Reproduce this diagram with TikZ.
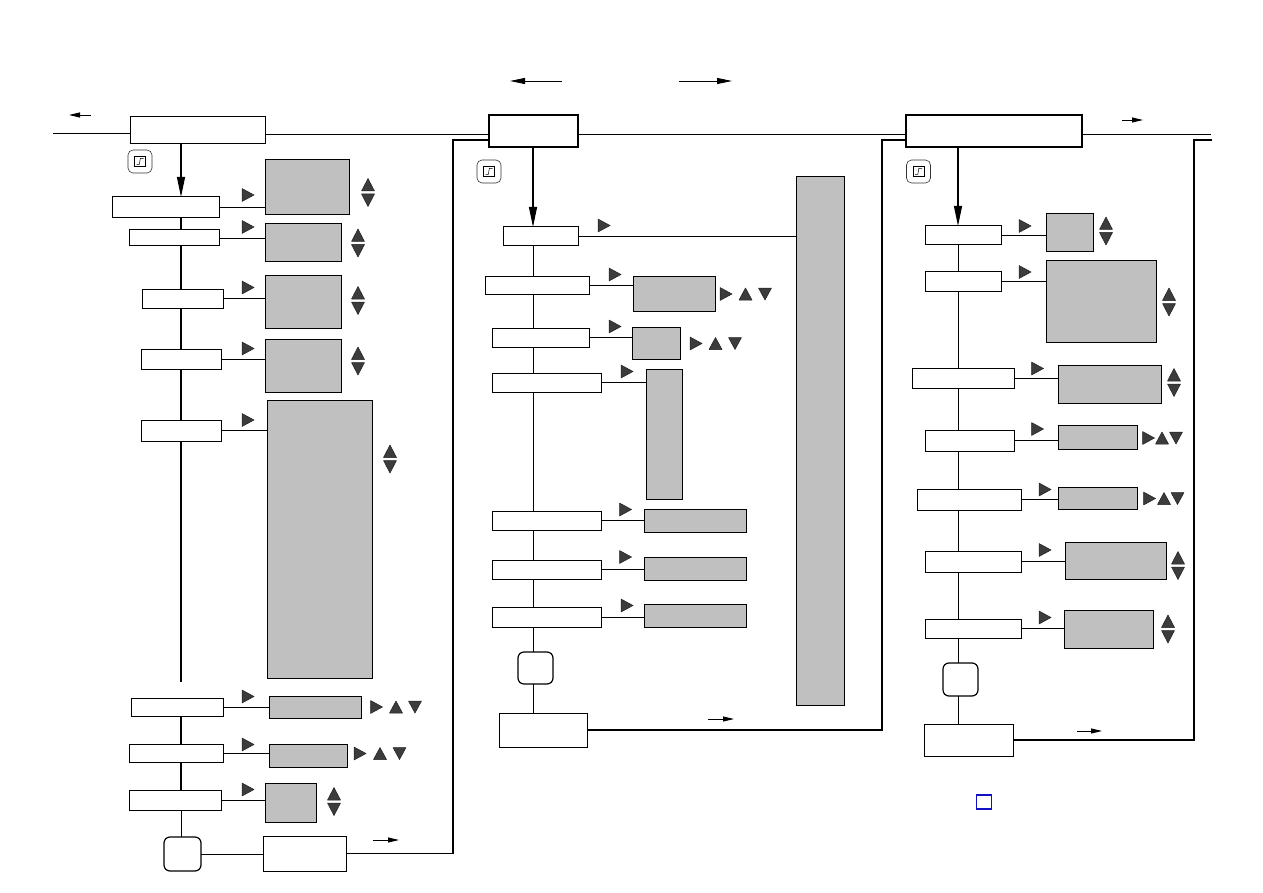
\documentclass[tikz,border=0pt]{standalone}
\usetikzlibrary{arrows.meta}
\definecolor{panel}{HTML}{C0C0C0}
\definecolor{trifill}{HTML}{3C3C3C}
\definecolor{triedge}{HTML}{202020}
\definecolor{markblue}{HTML}{1010C8}
\newcommand\mkbox[6]{\node[#1, minimum width={(#5-#3)*1pt}, minimum height={(#6-#4)*1pt}] (#2) at ({(#3+#5)/2},{(#4+#6)/2}) {};}
\tikzset{
  base/.style={draw=black, inner sep=0pt, outer sep=0pt, line width=1pt},
  wbox/.style={base, fill=white},
  tbox/.style={base, fill=white, line width=2pt},
  gbox/.style={base, fill=panel},
  rbox/.style={base, fill=white, rounded corners=6pt, line width=1.2pt},
  conn/.style={line width=0.9pt},
  spine/.style={line width=2pt},
  thinspine/.style={line width=1pt},
  loopline/.style={line width=1.3pt},
  loopthick/.style={line width=2pt},
  bigarrow/.style={line width=1.2pt, -{Triangle[length=20pt,width=8pt]}},
  smallarrow/.style={line width=0.9pt, -{Triangle[length=11pt,width=5pt]}},
  midarrow/.style={line width=0.9pt, -{Triangle[length=15pt,width=6pt]}},
  tri/.style={fill=trifill, draw=triedge, line width=0.5pt, line join=round},
  play/.pic={\path[tri] (-6,-6.5) -- (6,0) -- (-6,6.5) -- cycle;},
  upt/.pic={\path[tri] (-6.5,6) -- (0,-6) -- (6.5,6) -- cycle;},
  dnt/.pic={\path[tri] (-6.5,-6) -- (6.5,-6) -- (0,6) -- cycle;},
  updown/.pic={\path[tri] (-6.5,-1.5) -- (0,-14) -- (6.5,-1.5) -- cycle;
               \path[tri] (-6.5,1.5) -- (6.5,1.5) -- (0,14) -- cycle;},
  stepicon/.pic={\draw[rounded corners=5pt, line width=0.6pt, draw=black!80] (-12,-11.5) rectangle (12,11.5);
                 \draw[line width=0.7pt] (-5.5,-5) rectangle (5.5,5);
                 \draw[line width=0.5pt] (-3.5,3) -- (-0.7,3) -- (0.3,-3) -- (3.5,-3);},
}
\begin{document}
\begin{tikzpicture}[x=1pt, y=-1pt]
\useasboundingbox[fill=white] (0,0) rectangle (1263,893);

% ---------------- column 1 ----------------
\mkbox{wbox}{A1}{130}{117}{265}{144}
\mkbox{wbox}{B1}{112}{197}{219}{218}
\mkbox{wbox}{C1}{129}{230}{219}{246}
\mkbox{wbox}{D1}{142}{289}{223}{308}
\mkbox{wbox}{E1}{141}{349}{221}{369}
\mkbox{wbox}{F1}{141}{420}{221}{441}
\mkbox{wbox}{H1}{131}{698}{223}{716}
\mkbox{wbox}{I1}{129}{744}{223}{762}
\mkbox{wbox}{J1}{129}{790}{221}{810}
\mkbox{rbox}{K1}{164}{837}{201}{871}
\mkbox{wbox}{L1}{263}{836}{346}{871}
\mkbox{gbox}{GA1}{265}{160}{349}{215}
\mkbox{gbox}{GB1}{265}{224}{341}{262}
\mkbox{gbox}{GC1}{265}{276}{341}{328}
\mkbox{gbox}{GD1}{265}{339}{341}{392}
\mkbox{gbox}{GE1}{267}{400}{372}{678}
\mkbox{gbox}{GH1}{269}{696}{361}{718}
\mkbox{gbox}{GI1}{269}{744}{347}{767}
\mkbox{gbox}{GJ1}{265}{783}{316}{822}

\coordinate (s1) at (181,0);
\coordinate (e1) at (181,682);
\coordinate (lin) at (53,133);
\coordinate (h1) at (0,134);
\coordinate (r1) at (453,140);

\draw[conn] (lin) -- (lin -| A1.west);
\draw[conn] (A1.east |- h1) -- (h1 -| 489,0);
\draw[bigarrow] (A1.south -| s1) -- (B1.north -| s1);
\draw[spine] (B1.south -| s1) -- (C1.north -| s1);
\draw[spine] (C1.south -| s1) -- (D1.north -| s1);
\draw[spine] (D1.south -| s1) -- (E1.north -| s1);
\draw[spine] (E1.south -| s1) -- (F1.north -| s1);
\draw[spine] (F1.south -| s1) -- (e1);
\draw[spine] (H1.south -| s1) -- (I1.north -| s1);
\draw[spine] (I1.south -| s1) -- (J1.north -| s1);
\draw[thinspine] (J1.south -| s1) -- (K1.north -| s1);
\draw[conn] (K1.east) -- (K1.east -| L1.west);

\draw[conn] (B1.east) -- (B1.east -| GA1.west);
\draw[conn] (C1.east) -- (C1.east -| GB1.west);
\draw[conn] (D1.east) -- (D1.east -| GC1.west);
\draw[conn] (E1.east) -- (E1.east -| GD1.west);
\draw[conn] (F1.east) -- (F1.east -| GE1.west);
\draw[conn] (H1.east) -- (H1.east -| GH1.west);
\draw[conn] (I1.east) -- (I1.east -| GI1.west);
\draw[conn] (J1.east) -- (J1.east -| GJ1.west);

\pic at (140,161.5) {stepicon};
\foreach \y in {195,227,287.5,348.5,420,696.5,744.5,789.5} {\pic at (248,\y) {play};}
\pic at (368,192.5) {updown};
\pic at (358,243) {updown};
\pic at (358,300.5) {updown};
\pic at (358,361) {updown};
\pic at (390,459) {updown};
\pic at (334,801.5) {updown};
\pic at (376.5,707) {play}; \pic at (396,707) {upt}; \pic at (415,707) {dnt};
\pic at (360,753.5) {play}; \pic at (380,753.5) {upt}; \pic at (399.5,753.5) {dnt};

\coordinate (la1) at (91,115); \coordinate (la2) at (69,115);
\draw[smallarrow] (la1) -- (la2);
\coordinate (lb1) at (373,840); \coordinate (lb2) at (399,840);
\draw[smallarrow] (lb1) -- (lb2);

% ---------------- column 2 ----------------
\mkbox{tbox}{A2}{489}{115}{578}{147}
\mkbox{wbox}{B2}{503}{227}{578}{246}
\mkbox{wbox}{C2}{485}{277}{589}{294}
\mkbox{wbox}{D2}{492}{328}{589}{347}
\mkbox{wbox}{E2}{492}{373}{601}{392}
\mkbox{wbox}{F2}{492}{511}{601}{530}
\mkbox{wbox}{G2}{492}{560}{601}{579}
\mkbox{wbox}{H2}{492}{607}{601}{627}
\mkbox{rbox}{K2}{518}{652}{553}{684}
\mkbox{wbox}{L2}{499}{713}{587}{747}
\mkbox{gbox}{GT2}{796}{177}{844}{705}
\mkbox{gbox}{GC2}{633}{277}{715}{311}
\mkbox{gbox}{GD2}{632}{327}{680}{359}
\mkbox{gbox}{GE2}{646}{369}{682}{499}
\mkbox{gbox}{GF2}{644}{509}{746}{532}
\mkbox{gbox}{GG2}{644}{557}{746}{580}
\mkbox{gbox}{GH2}{644}{604}{746}{627}

\coordinate (s2) at (533,0);
\coordinate (r2) at (882,140);

\draw[loopline] (L1.east) -| (r1) -- (r1 -| A2.west);
\draw[conn] (A2.east |- h1) -- (h1 -| 906,0);
\draw[bigarrow] (A2.south -| s2) -- (B2.north -| s2);
\draw[conn] (B2.south -| s2) -- (C2.north -| s2);
\draw[conn] (C2.south -| s2) -- (D2.north -| s2);
\draw[conn] (D2.south -| s2) -- (E2.north -| s2);
\draw[conn] (E2.south -| s2) -- (F2.north -| s2);
\draw[conn] (F2.south -| s2) -- (G2.north -| s2);
\draw[conn] (G2.south -| s2) -- (H2.north -| s2);
\draw[conn] (H2.south -| s2) -- (K2.north -| s2);
\draw[conn] (K2.south -| s2) -- (L2.north -| s2);

\draw[conn] (B2.east) -- (B2.east -| GT2.west);
\draw[conn] (C2.east) -- (C2.east -| GC2.west);
\draw[conn] (D2.east) -- (D2.east -| GD2.west);
\draw[conn] (E2.east) -- (E2.east -| GE2.west);
\draw[conn] (F2.east) -- (F2.east -| GF2.west);
\draw[conn] (G2.east) -- (G2.east -| GG2.west);
\draw[conn] (H2.east) -- (H2.east -| GH2.west);

\pic at (489,171.5) {stepicon};
\pic at (604,225.5) {play};
\pic at (615,274.5) {play};
\pic at (615,326.5) {play};
\pic at (627,371.5) {play};
\pic at (625.5,509.5) {play};
\pic at (625.5,557) {play};
\pic at (627,605.5) {play};
\pic at (726,294) {play}; \pic at (745.5,294) {upt}; \pic at (765,294) {dnt};
\pic at (696,343.5) {play}; \pic at (715.5,343.5) {upt}; \pic at (735,343.5) {dnt};

\coordinate (ta1) at (562,81); \coordinate (ta2) at (510,81);
\draw[midarrow] (ta1) -- (ta2);
\coordinate (tb1) at (679,81); \coordinate (tb2) at (732,81);
\draw[midarrow] (tb1) -- (tb2);
\coordinate (lc1) at (708,719); \coordinate (lc2) at (734,719);
\draw[smallarrow] (lc1) -- (lc2);

% ---------------- column 3 ----------------
\mkbox{tbox}{A3}{906}{115}{1082}{147}
\mkbox{wbox}{B3}{925}{226}{1001}{245}
\mkbox{wbox}{C3}{925}{272}{1001}{291}
\mkbox{wbox}{D3}{912}{368}{1014}{388}
\mkbox{wbox}{E3}{925}{430}{1014}{451}
\mkbox{wbox}{F3}{917}{489}{1021}{510}
\mkbox{wbox}{G3}{925}{551}{1021}{572}
\mkbox{wbox}{H3}{925}{619}{1021}{638}
\mkbox{rbox}{K3}{943}{663}{978}{696}
\mkbox{wbox}{L3}{924}{724}{1013}{756}
\mkbox{gbox}{GB3}{1046}{214}{1093}{252}
\mkbox{gbox}{GC3}{1046}{261}{1156}{342}
\mkbox{gbox}{GD3}{1058}{365}{1161}{403}
\mkbox{gbox}{GE3}{1058}{425}{1137}{449}
\mkbox{gbox}{GF3}{1058}{487}{1137}{509}
\mkbox{gbox}{GG3}{1065}{542}{1166}{579}
\mkbox{gbox}{GH3}{1064}{610}{1153}{648}

\coordinate (s3) at (958,0);
\coordinate (r3) at (1194,140);
\coordinate (r3e) at (1212,140);
\coordinate (rout) at (1211,134);

\draw[loopline] (L2.east) -| (r2) -- (r2 -| A3.west);
\draw[conn] (A3.east |- h1) -- (rout);
\draw[loopthick] (L3.east) -| (r3) -- (r3e);
\draw[bigarrow] (A3.south -| s3) -- (B3.north -| s3);
\draw[conn] (B3.south -| s3) -- (C3.north -| s3);
\draw[conn] (C3.south -| s3) -- (D3.north -| s3);
\draw[conn] (D3.south -| s3) -- (E3.north -| s3);
\draw[conn] (E3.south -| s3) -- (F3.north -| s3);
\draw[conn] (F3.south -| s3) -- (G3.north -| s3);
\draw[conn] (G3.south -| s3) -- (H3.north -| s3);
\draw[conn] (H3.south -| s3) -- (K3.north -| s3);
\draw[conn] (K3.south -| s3) -- (L3.north -| s3);

\draw[conn] (B3.east) -- (B3.east -| GB3.west);
\draw[conn] (C3.east) -- (C3.east -| GC3.west);
\draw[conn] (D3.east) -- (D3.east -| GD3.west);
\draw[conn] (E3.east) -- (E3.east -| GE3.west);
\draw[conn] (F3.east) -- (F3.east -| GF3.west);
\draw[conn] (G3.east) -- (G3.east -| GG3.west);
\draw[conn] (H3.east) -- (H3.east -| GH3.west);

\pic at (918.5,171.5) {stepicon};
\pic at (1025,226) {play};
\pic at (1025,272) {play};
\pic at (1037.5,368.5) {play};
\pic at (1037.5,429) {play};
\pic at (1045,489.5) {play};
\pic at (1045,550) {play};
\pic at (1045,617.5) {play};
\pic at (1106,231) {updown};
\pic at (1169,302) {updown};
\pic at (1174,382.5) {updown};
\pic at (1178,565.5) {updown};
\pic at (1168,629) {updown};
\pic at (1148.5,438) {play}; \pic at (1162,438) {upt}; \pic at (1176,438) {dnt};
\pic at (1149.5,498.5) {play}; \pic at (1164,498.5) {upt}; \pic at (1177.5,498.5) {dnt};

\coordinate (ra1) at (1122,120); \coordinate (ra2) at (1143,120);
\draw[smallarrow] (ra1) -- (ra2);
\coordinate (rb1) at (1077,731); \coordinate (rb2) at (1102,731);
\draw[smallarrow] (rb1) -- (rb2);

\node[draw=markblue, line width=1.2pt, minimum width=15pt, minimum height=14pt, inner sep=0pt] (bluesq) at (984,802) {};
\end{tikzpicture}
\end{document}
